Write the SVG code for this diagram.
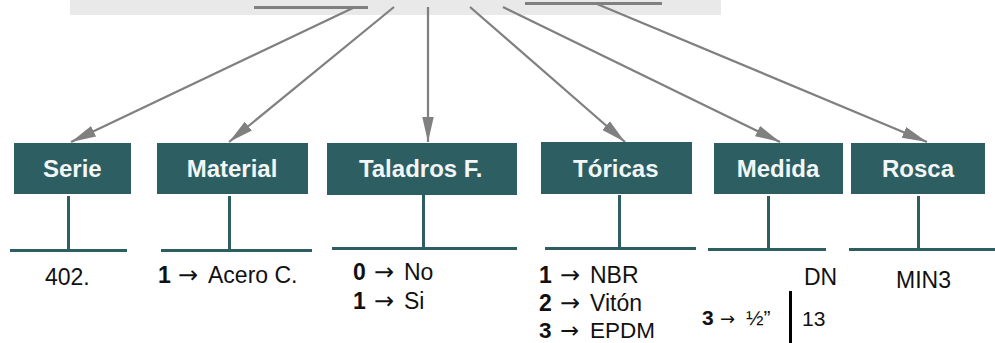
<svg xmlns="http://www.w3.org/2000/svg" width="995" height="343" viewBox="0 0 995 343">
<style>
.box{fill:#2d5e62}
.lbl{font:bold 24px "Liberation Sans",Arial,sans-serif;fill:#f2f6f6;text-anchor:middle}
.t{font:23px "Liberation Sans",Arial,sans-serif;fill:#111}
.b{font-weight:bold}
.c{stroke:#808080;stroke-width:2.250;fill:none}
.a{marker-end:url(#ah)}
.s{stroke:#808080;stroke-width:3;fill:none}
.d{stroke:#2d5e62;stroke-width:3;fill:none}
.sy{font-family:"DejaVu Sans",sans-serif;font-weight:normal;font-size:24px}
</style>
<defs>
<marker id="ah" markerUnits="userSpaceOnUse" markerWidth="26" markerHeight="14" refX="25" refY="7" orient="auto">
<path d="M0 1.250L25 7L0 12.750Z" fill="#808080"/>
</marker>
</defs>
<rect id="top" x="70" y="0" width="651" height="15" fill="#e9e9e9"/>
<g id="connectors">
<path class="s" d="M254 7.500H368M525 3.500H662"/>
<path class="c a" d="M355 7L71 142"/>
<path class="c a" d="M394 7L229 142"/>
<path class="c a" d="M428 7V142"/>
<path class="c a" d="M470 7L625 142"/>
<path class="c a" d="M503 7L780 142"/>
<path class="c a" d="M597 4L927 142"/>
</g>
<g id="serie"><rect class="box" x="14" y="143" width="117" height="51"/><text class="lbl" x="72.300" y="177">Serie</text>
<path class="d" d="M68.500 196V250M10 250.500H127"/><text class="t" x="45" y="285">402.</text></g>
<g id="material"><rect class="box" x="157" y="143" width="151" height="51"/><text class="lbl" x="232" y="177">Material</text>
<path class="d" d="M229.500 196V250M161 250.500H312"/><text class="t" y="283"><tspan class="b" x="158">1</tspan><tspan class="sy" x="178">→</tspan><tspan x="208">Acero C.</tspan></text></g>
<g id="taladros"><rect class="box" x="327" y="143" width="190" height="52"/><text class="lbl" x="420.700" y="177">Taladros F.</text>
<path class="d" d="M423.500 195V248M332 248.500H517"/><text class="t" y="280"><tspan class="b" x="353">0</tspan><tspan class="sy" x="374">→</tspan><tspan x="404">No</tspan></text><text class="t" y="309"><tspan class="b" x="353">1</tspan><tspan class="sy" x="374">→</tspan><tspan x="404">Si</tspan></text></g>
<g id="toricas"><rect class="box" x="541" y="142" width="151" height="52"/><text class="lbl" x="615.800" y="177">Tóricas</text>
<path class="d" d="M619.500 195V248M545 248.500H696"/><text class="t" y="283"><tspan class="b" x="539">1</tspan><tspan class="sy" x="560">→</tspan><tspan x="590">NBR</tspan></text><text class="t" y="311"><tspan class="b" x="539">2</tspan><tspan class="sy" x="560">→</tspan><tspan x="590">Vitón</tspan></text><text class="t" y="338" style="font-size:22.500px"><tspan class="b" x="539">3</tspan><tspan class="sy" x="560" style="font-size:22.500px">→</tspan><tspan x="590">EPDM</tspan></text></g>
<g id="medida"><rect class="box" x="714" y="143" width="129" height="51"/><text class="lbl" x="778" y="177">Medida</text>
<path class="d" d="M768.500 196V249M708 249.500H826"/><text class="t" x="804" y="285">DN</text>
<text class="t" y="325" style="font-size:21px"><tspan class="b" x="702">3</tspan><tspan class="sy" x="720" style="font-size:18px">→</tspan><tspan x="746">½”</tspan></text>
<path d="M790.500 291V343" stroke="#000" stroke-width="3"/><text class="t" x="802" y="326" style="font-size:21px">13</text></g>
<g id="rosca"><rect class="box" x="851" y="143" width="134" height="51"/><text class="lbl" x="918" y="177">Rosca</text>
<path class="d" d="M918.500 196V249M849 249.500H995"/><text class="t" x="896" y="288">MIN3</text></g>
</svg>
